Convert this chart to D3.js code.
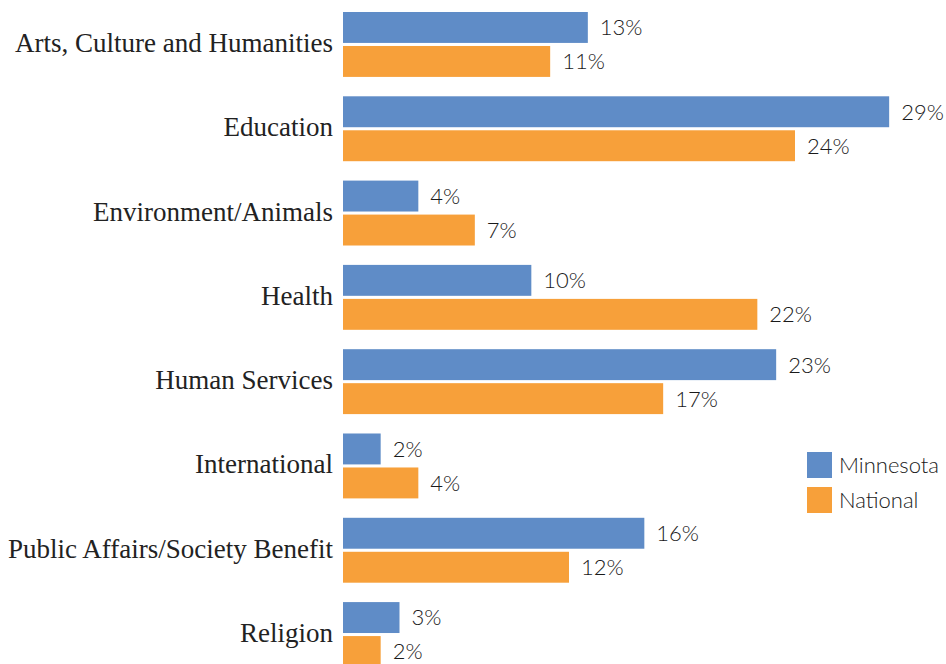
<!DOCTYPE html>
<html lang="en">
  <head>
    <meta charset="utf-8">
    <title>Giving by cause</title>
    <script src="https://cdn.jsdelivr.net/npm/d3@7"></script>
    <style>
      body { margin: 0; background: #fff; }
      .cat { font-family: "Liberation Serif", "Times New Roman", serif; font-size: 27px; fill: #222; }
      .val, .leg { font-family: Lato, "Open Sans", sans-serif; font-size: 22px; font-weight: 300; fill: #1a1a1a; }
    </style>
  </head>
  <body>
    <div id="svg-area"></div>
    <script>
      const svg_width = 946;
      const svg_height = 664;

      const categories = [
        "Arts, Culture and Humanities",
        "Education",
        "Environment/Animals",
        "Health",
        "Human Services",
        "International",
        "Public Affairs/Society Benefit",
        "Religion"
      ];
      const series_names = ["Minnesota", "National"];
      const minnesota = [13, 29, 4, 10, 23, 2, 16, 3];
      const national = [11, 24, 7, 22, 17, 4, 12, 2];
      const colors = ["#5f8cc7", "#f7a03a"];

      const svg = d3.select('#svg-area')
        .append('svg')
        .attr('width', svg_width)
        .attr('height', svg_height);

      const x = d3.scaleLinear().domain([0, 30]).range([343, 908]);
      const y = d3.scaleBand().domain(categories).range([12, 667]).paddingInner(0.23);
      const y_sub = d3.scaleBand().domain(series_names).range([0, y.bandwidth()]).paddingInner(0.09);
      const color = d3.scaleOrdinal().domain(series_names).range(colors);

      //one group per category
      const groups = svg.selectAll('g.cat-group')
        .data(categories)
        .enter()
        .append('g')
        .attr('class', 'cat-group')
        .attr('transform', d => `translate(0,${y(d)})`);

      groups.append('text')
        .attr('class', 'cat')
        .attr('x', 333)
        .attr('y', y.bandwidth() / 2)
        .attr('dy', '0.28em')
        .attr('text-anchor', 'end')
        .text(d => d);

      const bars = groups.selectAll('g.bar')
        .data((d, i) => [
          { s: "Minnesota", v: minnesota[i] },
          { s: "National", v: national[i] }
        ])
        .enter()
        .append('g')
        .attr('class', 'bar');

      bars.append('rect')
        .attr('x', x(0))
        .attr('y', d => y_sub(d.s))
        .attr('width', d => x(d.v) - x(0))
        .attr('height', y_sub.bandwidth())
        .attr('fill', d => color(d.s));

      bars.append('text')
        .attr('class', 'val')
        .attr('x', d => x(d.v) + 12)
        .attr('y', d => y_sub(d.s) + y_sub.bandwidth() / 2)
        .attr('dy', '0.36em')
        .text(d => d.v + '%');

      //legend
      const legend = svg.selectAll('g.leg-item')
        .data(series_names)
        .enter()
        .append('g')
        .attr('class', 'leg-item')
        .attr('transform', (d, i) => `translate(807,${452 + i * 35})`);

      legend.append('rect')
        .attr('width', 25)
        .attr('height', 26)
        .attr('fill', d => color(d));

      legend.append('text')
        .attr('class', 'leg')
        .attr('x', 32)
        .attr('y', 13)
        .attr('dy', '0.36em')
        .text(d => d);
    </script>
  </body>
</html>
